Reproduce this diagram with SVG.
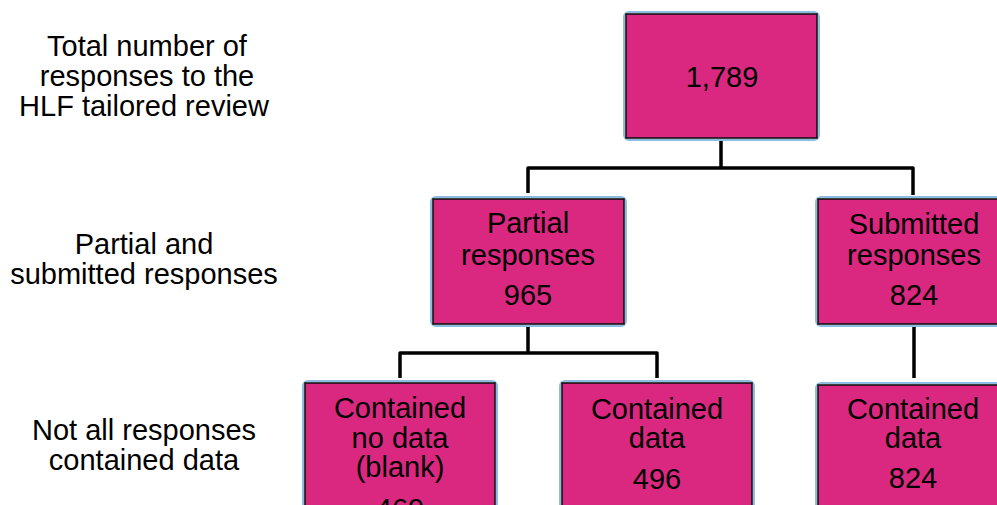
<svg xmlns="http://www.w3.org/2000/svg" width="997" height="505" viewBox="0 0 997 505">
<style>
.halo{fill:none;stroke:#8EBDE3;stroke-width:2}
.box{fill:#DA2881;stroke:#111;stroke-width:1.6}
.t{font-family:"Liberation Sans",Arial,sans-serif;font-size:29px;fill:#000;text-anchor:middle}
.c{fill:none;stroke:#000;stroke-width:3.5;stroke-linejoin:round}
</style>
<rect width="997" height="505" fill="#fff"/>
<g id="labels">
<text class="t" x="147" y="56">Total number of</text>
<text class="t" x="147" y="86">responses to the</text>
<text class="t" x="144" y="116">HLF tailored review</text>
<text class="t" x="144" y="254">Partial and</text>
<text class="t" x="144" y="284">submitted responses</text>
<text class="t" x="144" y="440">Not all responses</text>
<text class="t" x="144" y="470">contained data</text>
</g>
<g id="connectors">
<path class="c" d="M721,140 V168 M528,193 V168 H913 V195"/>
<path class="c" d="M528,325 V353 M400,378 V353 H657 V378"/>
<path class="c" d="M914,327 V378"/>
</g>
<g id="total">
<rect class="halo" x="624" y="12" width="195" height="128" rx="5"/>
<rect class="box" x="626" y="14" width="191" height="124"/>
<text class="t" x="722" y="87">1,789</text>
</g>
<g id="partial">
<rect class="halo" x="431" y="197" width="195" height="129" rx="5"/>
<rect class="box" x="433" y="199" width="191" height="125"/>
<text class="t" x="528" y="233">Partial</text>
<text class="t" x="528" y="265">responses</text>
<text class="t" x="528" y="305">965</text>
</g>
<g id="submitted">
<rect class="halo" x="816" y="197" width="195" height="129" rx="5"/>
<rect class="box" x="818" y="199" width="191" height="125"/>
<text class="t" x="914" y="234">Submitted</text>
<text class="t" x="914" y="265">responses</text>
<text class="t" x="914" y="305">824</text>
</g>
<g id="blank">
<rect class="halo" x="303" y="381" width="194" height="140" rx="5"/>
<rect class="box" x="305" y="383" width="190" height="136"/>
<text class="t" x="400" y="418">Contained</text>
<text class="t" x="400" y="448">no data</text>
<text class="t" x="400" y="477">(blank)</text>
<text class="t" x="400" y="519">469</text>
</g>
<g id="partial-data">
<rect class="halo" x="560" y="381" width="194" height="140" rx="5"/>
<rect class="box" x="562" y="383" width="190" height="136"/>
<text class="t" x="657" y="419">Contained</text>
<text class="t" x="657" y="448">data</text>
<text class="t" x="657" y="489">496</text>
</g>
<g id="submitted-data">
<rect class="halo" x="816" y="383" width="195" height="140" rx="5"/>
<rect class="box" x="818" y="385" width="191" height="136"/>
<text class="t" x="913" y="419">Contained</text>
<text class="t" x="913" y="448">data</text>
<text class="t" x="913" y="488">824</text>
</g>
</svg>
